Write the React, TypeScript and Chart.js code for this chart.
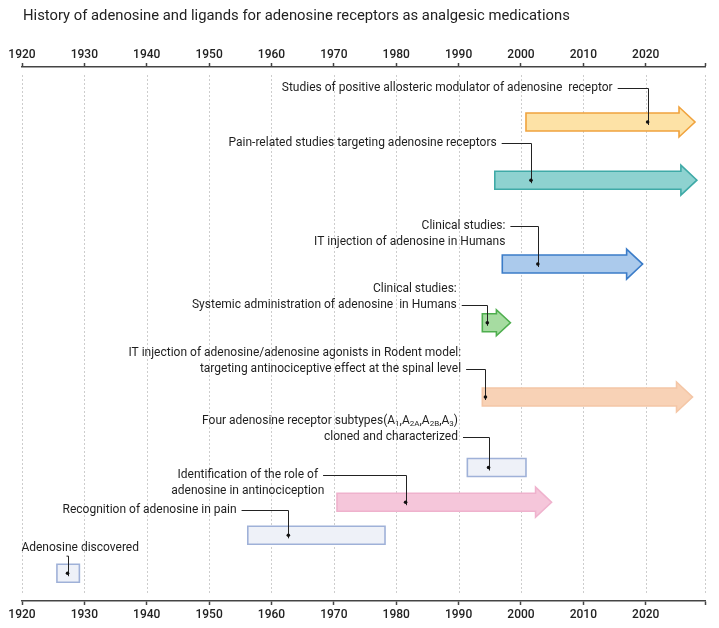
import React, { useEffect, useRef } from 'react';
import { Chart, registerables } from 'chart.js';

Chart.register(...registerables);

const TITLE = 'History of adenosine and ligands for adenosine receptors as analgesic medications';
const YEAR_MIN = 1920;
const YEAR_MAX = 2029.5;
const TICK_YEARS = [1920, 1930, 1940, 1950, 1960, 1970, 1980, 1990, 2000, 2010, 2020];

const EVENTS = [
  'Studies of positive allosteric modulator of adenosine  receptor',
  'Pain-related studies targeting adenosine receptors',
  'Clinical studies:\nIT injection of adenosine in Humans',
  'Clinical studies:\nSystemic administration of adenosine  in Humans',
  'IT injection of adenosine/adenosine agonists in Rodent model:\ntargeting antinociceptive effect at the spinal level',
  'Four adenosine receptor subtypes(A_{1},A_{2A},A_{2B},A_{3})\ncloned and characterized',
  'Identification of the role of\nadenosine in antinociception',
  'Recognition of adenosine in pain',
  'Adenosine discovered',
];
const START_YEARS = [2000.8, 1995.8, 1997.0, 1993.8, 1993.8, 1991.4, 1970.5, 1956.2, 1925.6];
const END_YEARS = [2027.9, 2028.2, 2019.5, 1998.3, 2027.5, 2000.8, 2004.9, 1978.2, 1929.2];
const MARKER_YEARS = [2020.3, 2001.6, 2002.7, 1994.6, 1994.3, 1994.8, 1981.5, 1962.7, 1927.3];
const ROWS = [89.7, 78.8, 63.1, 52.1, 38.2, 25.0, 18.5, 12.3, 5.2];
const IS_ARROW = [true, true, true, true, true, false, true, false, false];

// label layout (data units)
const LABEL_X = [2014.7, 1996.1, 1997.5, 1989.7, 1990.4, 1989.9, 1956.2, 1954.4, 1919.9];
const LABEL_ROW = [96.1, 85.8, 70.3, 58.4, 46.5, 33.8, 23.6, 17.0, 9.9];
const LABEL_ALIGN = ['right', 'right', 'right', 'right', 'right', 'right', 'center', 'right', 'left'];
const LEADER_FROM_LINE = [0, 0, 0, 1, 1, 1, 0, 0, -1];

// styles
const FILL = ['#fde2a6', '#8ed2d0', '#abcaec', '#a6dca1', '#f8d2b6', '#eef1f8', '#f5c6da', '#eef1f8', '#eef1f8'];
const STROKE = ['#f0a33e', '#3faaa7', '#3b7cc8', '#4eae4e', '#f4c6a6', '#9fb1d8', '#efb2cd', '#9fb1d8', '#9fb1d8'];

const FONT_FAMILY = 'Roboto, "Noto Sans", sans-serif';
const LABEL_FONT = `12px ${FONT_FAMILY}`;
const SUB_FONT = `8px ${FONT_FAMILY}`;
const LINE_H = 16;

type Seg = { t: string; sub: boolean };
function parseRich(s: string): Seg[] {
  const segs: Seg[] = [];
  const re = /_\{([^}]*)\}/g;
  let last = 0;
  let m: RegExpExecArray | null;
  while ((m = re.exec(s))) {
    if (m.index > last) segs.push({ t: s.slice(last, m.index), sub: false });
    segs.push({ t: m[1], sub: true });
    last = m.index + m[0].length;
  }
  if (last < s.length) segs.push({ t: s.slice(last), sub: false });
  return segs;
}
function measureRich(ctx: CanvasRenderingContext2D, s: string) {
  let w = 0;
  for (const seg of parseRich(s)) {
    ctx.font = seg.sub ? SUB_FONT : LABEL_FONT;
    w += ctx.measureText(seg.t).width;
  }
  return w;
}
function drawRich(ctx: CanvasRenderingContext2D, s: string, x: number, y: number) {
  let cx = x;
  for (const seg of parseRich(s)) {
    ctx.font = seg.sub ? SUB_FONT : LABEL_FONT;
    ctx.fillText(seg.t, cx, seg.sub ? y + 3 : y);
    cx += ctx.measureText(seg.t).width;
  }
}

function drawShape(ctx: CanvasRenderingContext2D, x0: number, x1: number, yc: number, arrow: boolean, fill: string, stroke: string) {
  const bodyH = 18;
  const small = x1 - x0 < 40;
  const headH = small ? 26 : 30;
  const headL = small ? 14 : 16;
  ctx.beginPath();
  if (arrow) {
    const xb = x1 - headL;
    ctx.moveTo(x0, yc - bodyH / 2);
    ctx.lineTo(xb, yc - bodyH / 2);
    ctx.lineTo(xb, yc - headH / 2);
    ctx.lineTo(x1, yc);
    ctx.lineTo(xb, yc + headH / 2);
    ctx.lineTo(xb, yc + bodyH / 2);
    ctx.lineTo(x0, yc + bodyH / 2);
    ctx.closePath();
  } else {
    ctx.rect(x0, yc - bodyH / 2, x1 - x0, bodyH);
  }
  ctx.fillStyle = fill;
  ctx.fill();
  ctx.lineWidth = 1.6;
  ctx.lineJoin = 'miter';
  ctx.strokeStyle = stroke;
  ctx.stroke();
}

const timelinePlugin = {
  id: 'timeline',
  beforeDatasetsDraw(chart: any) {
    const { ctx, chartArea, scales } = chart;
    const xs = scales.x;
    const ys = scales.y;
    ctx.save();
    ctx.strokeStyle = '#cdcdcd';
    ctx.lineWidth = 1;
    ctx.setLineDash([2, 2]);
    xs.ticks.forEach((t: any) => {
      const px = Math.round(xs.getPixelForValue(t.value)) + 0.5;
      ctx.beginPath();
      ctx.moveTo(px, chartArea.top + 8);
      ctx.lineTo(px, chartArea.bottom - 8);
      ctx.stroke();
    });
    ctx.setLineDash([]);

    for (let i = 0; i < EVENTS.length; i++) {
      const x0 = xs.getPixelForValue(START_YEARS[i]);
      const x1 = xs.getPixelForValue(END_YEARS[i]);
      const yc = ys.getPixelForValue(ROWS[i]);
      drawShape(ctx, x0, x1, yc, IS_ARROW[i], FILL[i], STROKE[i]);
    }

    ctx.textBaseline = 'middle';
    ctx.textAlign = 'left';
    for (let i = 0; i < EVENTS.length; i++) {
      const lines = EVENTS[i].split('\n');
      const ax = xs.getPixelForValue(LABEL_X[i]);
      const top = ys.getPixelForValue(LABEL_ROW[i]);
      const rights: number[] = [];
      ctx.fillStyle = '#1e1e1e';
      lines.forEach((ln, k) => {
        const w = measureRich(ctx, ln);
        let lx = ax;
        if (LABEL_ALIGN[i] === 'right') lx = ax - w;
        else if (LABEL_ALIGN[i] === 'center') lx = ax - w / 2;
        rights.push(lx + w);
        drawRich(ctx, ln, lx, top + k * LINE_H);
      });
      const mx = Math.round(xs.getPixelForValue(MARKER_YEARS[i])) + 0.5;
      const yc = ys.getPixelForValue(ROWS[i]);
      ctx.strokeStyle = '#222';
      ctx.lineWidth = 1;
      ctx.beginPath();
      const li = LEADER_FROM_LINE[i];
      if (li >= 0) {
        const ly = Math.round(top + li * LINE_H) + 0.5;
        ctx.moveTo(rights[li] + 5, ly);
        ctx.lineTo(mx, ly);
        ctx.lineTo(mx, yc + 3);
      } else {
        const ly = top + (lines.length - 1) * LINE_H + 8;
        ctx.moveTo(mx - 2, ly);
        ctx.lineTo(mx, ly);
        ctx.lineTo(mx, yc + 3);
      }
      ctx.stroke();
    }
    ctx.restore();
  },
  afterDraw(chart: any) {
    const { ctx } = chart;
    ctx.save();
    ctx.font = `14.8px ${FONT_FAMILY}`;
    ctx.fillStyle = '#222';
    ctx.textBaseline = 'middle';
    ctx.textAlign = 'left';
    ctx.fillText(TITLE, 23, 16);
    ctx.restore();
  },
};

function axis(position: 'top' | 'bottom') {
  return {
    type: 'linear',
    position,
    min: YEAR_MIN,
    max: YEAR_MAX,
    afterBuildTicks: (scale: any) => {
      scale.ticks = [...TICK_YEARS, YEAR_MAX].map((v) => ({ value: v }));
    },
    afterFit: (scale: any) => {
      scale.paddingLeft = 0;
      scale.paddingRight = 0;
    },
    ticks: {
      autoSkip: false,
      maxRotation: 0,
      padding: position === 'top' ? 1 : 3,
      color: '#222',
      font: { family: FONT_FAMILY, size: 12, weight: '500' },
      callback: (v: any) => (TICK_YEARS.includes(Number(v)) ? String(v) : ''),
    },
    grid: {
      drawOnChartArea: false,
      drawTicks: true,
      tickLength: 4,
      tickColor: '#444',
      tickWidth: 1.5,
    },
    border: { display: true, color: '#444', width: 1.5 },
  };
}

export default function App() {
  const ref = useRef<HTMLCanvasElement>(null);
  useEffect(() => {
    if (!ref.current) return;
    const chart = new Chart(ref.current, {
      type: 'scatter',
      data: {
        datasets: [
          {
            data: MARKER_YEARS.map((m, i) => ({ x: m, y: ROWS[i] })),
            pointRadius: 1.8,
            pointBackgroundColor: '#111',
            pointBorderWidth: 0,
            xAxisID: 'x',
            yAxisID: 'y',
          } as any,
        ],
      },
      options: {
        responsive: false,
        animation: false,
        layout: { padding: { left: 22, right: 14, top: 46.6, bottom: 2.6 } },
        plugins: { legend: { display: false }, tooltip: { enabled: false }, title: { display: false } },
        scales: {
          x: axis('bottom') as any,
          x2: axis('top') as any,
          y: { type: 'linear', min: 0, max: 100, display: false },
        },
      },
      plugins: [timelinePlugin],
    });
    return () => chart.destroy();
  }, []);
  return (
    <div style={{ position: 'absolute', left: 0, top: 0, width: 719, height: 628, background: '#fff' }}>
      <canvas ref={ref} width={719} height={628} />
    </div>
  );
}
